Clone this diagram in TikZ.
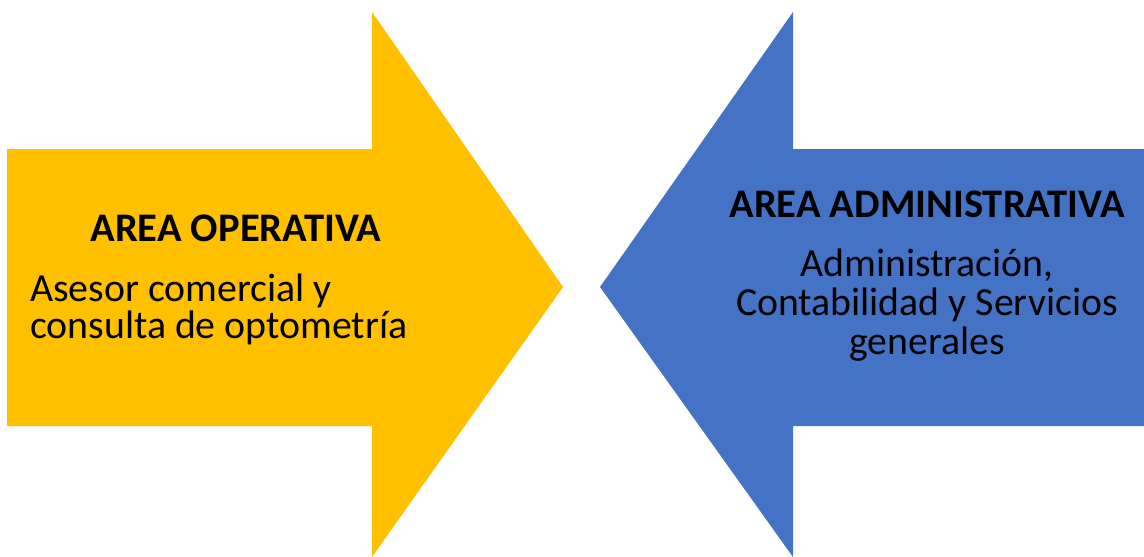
\documentclass[tikz,border=0pt]{standalone}
\usepackage{fontspec}
\setmainfont{Carlito}
\definecolor{arrowyellow}{HTML}{FFC000}
\definecolor{arrowblue}{HTML}{4472C4}
\begin{document}
\begin{tikzpicture}[x=1pt,y=-1pt,
  title/.style={font=\fontsize{40.6}{46}\selectfont\bfseries, inner sep=0pt},
  body/.style={font=\fontsize{39.8}{46}\selectfont, inner sep=0pt}]
\useasboundingbox (0,0) rectangle (1144,557);
% yellow arrow pointing right
\fill[arrowyellow] (7,149) -- (372,149) -- (372,12) -- (563,287) -- (372,557) -- (372,426) -- (7,426) -- cycle;
% blue arrow pointing left
\fill[arrowblue] (1144,149) -- (793,149) -- (793,12) -- (600,287) -- (793,557) -- (793,426) -- (1144,426) -- cycle;
% left texts
\node[title, anchor=base] (lt) at (236,241.7) {AREA OPERATIVA};
\node[body, anchor=base west] (l1) at (30,301.7) {Asesor comercial y};
\node[body, anchor=base west] (l2) at (30,338.3) {consulta de optometría};
% right texts
\node[title, anchor=base] (rt) at (927,217.7) {AREA ADMINISTRATIVA};
\node[body, anchor=base] (r1) at (927,276.7) {Administración,};
\node[body, anchor=base] (r2) at (927,315) {Contabilidad y Servicios};
\node[body, anchor=base] (r3) at (927,354) {generales};
\end{tikzpicture}
\end{document}
